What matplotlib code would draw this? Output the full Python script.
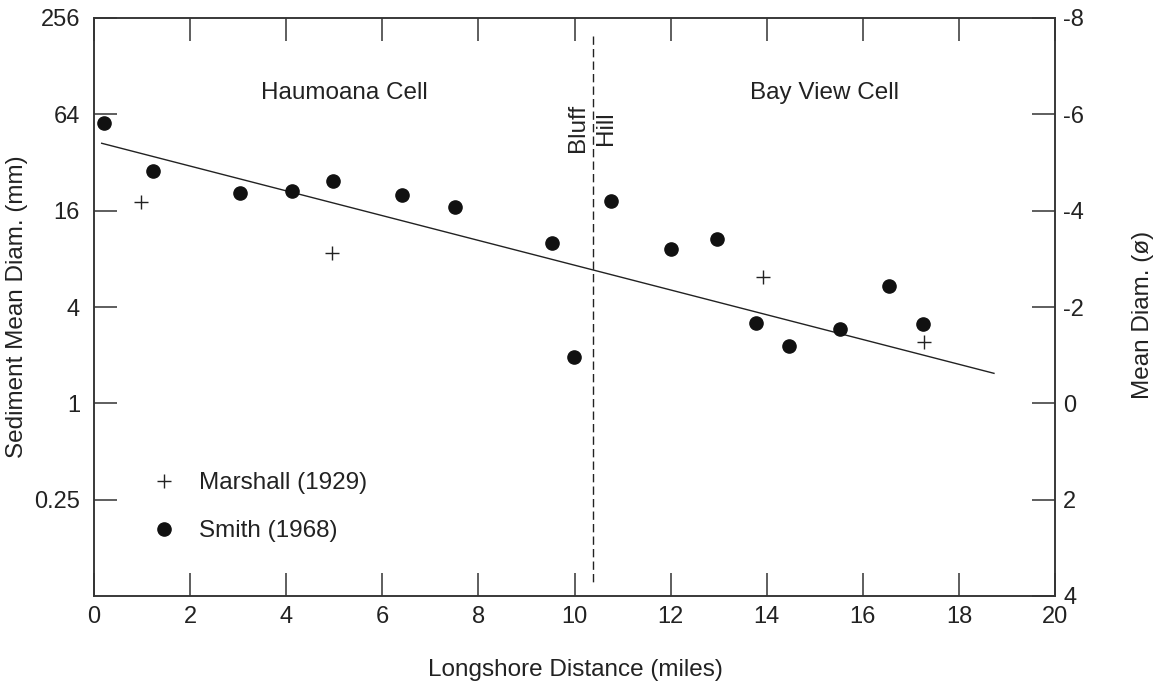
import numpy as np
import matplotlib
matplotlib.use("Agg")
from matplotlib import pyplot as plt

plt.rcParams['font.family'] = ['Liberation Sans', 'DejaVu Sans']

# Smith (1968) samples: distance (miles), mean diameter (mm)
smith_x = np.array([0.21, 1.23, 3.04, 4.12, 4.98, 6.40, 7.51, 9.53, 9.98,
                    10.77, 12.0, 12.96, 13.77, 14.47, 15.53, 16.55, 17.26])
smith_d = np.array([56.2, 28.3, 20.7, 21.3, 24.5, 20.1, 16.9, 10.1, 1.96,
                    18.5, 9.2, 10.6, 3.19, 2.28, 2.90, 5.44, 3.12])

# Marshall (1929) samples
marsh_x = np.array([0.98, 4.95, 13.93, 17.28])
marsh_d = np.array([18.0, 8.74, 6.14, 2.43])

# fitted trend line end points
fit_x = np.array([0.16, 18.73])
fit_d = np.array([42.2, 1.54])

# Bluff Hill divide
bluff_x = 10.38
bluff_phi = (-7.63, 3.70)

xticks = np.arange(0, 21, 2)
yticks = [0.25, 1, 4, 16, 64, 256]
ylabels = ['0.25', '1', '4', '16', '64', '256']
phi_ticks = [-8, -6, -4, -2, 0, 2, 4]

ink = '#222222'
fs = 17.5
tfs = 17

fig = plt.figure(figsize=(11.69, 6.85), dpi=100)
ax = fig.add_axes([94/1169, 1-596/685, (1055-94)/1169, (596-18)/685])
ax.set_yscale('log', base=2)
ax.set_xlim(0, 20)
ax.set_ylim(0.0625, 256)
ax.set_xticks(xticks)
ax.set_yticks(yticks)
ax.set_yticklabels(ylabels)
ax.minorticks_off()

ax.plot(fit_x, fit_d, color=ink, lw=1.0)
ax.plot(smith_x, smith_d, 'o', color='#111111', ms=9.5, label='Smith (1968)')
ax.plot(marsh_x, marsh_d, '+', color=ink, ms=10, mew=1.0, label='Marshall (1929)')
ax.plot([bluff_x, bluff_x], [2**-bluff_phi[0], 2**-bluff_phi[1]], color=ink,
        lw=1.0, dashes=(6, 3))

ax.text(5.22, 2**6.44, 'Haumoana Cell', ha='center', va='center', fontsize=fs, color=ink)
ax.text(15.21, 2**6.44, 'Bay View Cell', ha='center', va='center', fontsize=fs, color=ink)
ax.text(bluff_x - 0.3, 2**5.72, 'Bluff', rotation=90, ha='center', va='center',
        fontsize=fs, color=ink)
ax.text(bluff_x + 0.28, 2**5.72, 'Hill', rotation=90, ha='center', va='center',
        fontsize=fs, color=ink)

handles, labels = ax.get_legend_handles_labels()
ax.legend(handles[::-1], labels[::-1], frameon=False, loc='upper left',
          bbox_to_anchor=(0.0602, 0.214), borderpad=0, borderaxespad=0,
          handlelength=1.0, handletextpad=0.94, labelspacing=1.06,
          fontsize=fs, labelcolor=ink)

ax2 = ax.twinx()
ax2.set_ylim(4, -8)
ax2.set_yticks(phi_ticks)
ax2.set_yticklabels([str(t) for t in phi_ticks])

for a in (ax, ax2):
    for s in a.spines.values():
        s.set_linewidth(1.1)
        s.set_color('#333333')

ax.tick_params(axis='x', direction='in', length=16.5, width=1.1, color='#333333',
               top=True, labelsize=tfs, labelcolor=ink, pad=7.5)
ax.tick_params(axis='y', direction='in', length=16.5, width=1.1, color='#333333',
               labelsize=tfs, labelcolor=ink, pad=10)
ax2.tick_params(axis='y', direction='in', length=16.5, width=1.1, color='#333333',
                labelsize=tfs, labelcolor=ink, pad=6)

fig.text(575/1169, 1-670/685, 'Longshore Distance (miles)', ha='center',
         va='center', fontsize=fs, color=ink)
fig.text(17/1169, 1-307/685, 'Sediment Mean Diam. (mm)', rotation=90,
         ha='center', va='center', fontsize=fs, color=ink)
fig.text(1143/1169, 1-315/685, 'Mean Diam. (ø)', rotation=90,
         ha='center', va='center', fontsize=fs, color=ink)

fig.savefig('out.png', dpi=100)
